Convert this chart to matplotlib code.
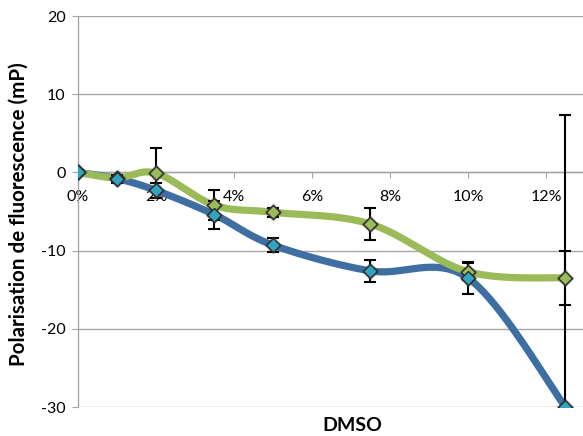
import numpy as np
import matplotlib
matplotlib.use("Agg")
import matplotlib.pyplot as plt

# ---- data ----
dmso = [0, 1, 2, 3.5, 5, 7.5, 10, 12.5]
blue_vals = [0.0, -0.8, -2.3, -5.4, -9.3, -12.6, -13.5, -30.0]
blue_err = [0.3, 0.5, 1.0, 1.8, 0.9, 1.4, 2.1, 37.3]
green_vals = [0.0, -0.7, -0.1, -4.2, -5.1, -6.6, -12.7, -13.5]
green_err = [0.3, 0.4, 3.2, 1.9, 0.6, 2.1, 1.1, 3.4]
xtick_vals = [0, 2, 4, 6, 8, 10, 12]
xtick_labels = ["0%", "2%", "4%", "6%", "8%", "10%", "12%"]
ytick_vals = [20, 10, 0, -10, -20, -30]

plt.rcParams['font.family'] = ['Lato', 'DejaVu Sans']
plt.rcParams['axes.unicode_minus'] = False

fig = plt.figure(figsize=(5.83, 4.36), dpi=100)
ax = fig.add_axes([78/583, 29/436, 1 - 78/583, 391/436])
XMAX = 12.95
ax.set_xlim(0, XMAX)
ax.set_ylim(-30, 20)

# pixel scales for smoothing
sx = 505 / XMAX
sy = 391 / 50.0

def smooth(xs, ys, n=40):
    P = np.column_stack([np.array(xs) * sx, np.array(ys) * sy])
    out = []
    m = len(P)
    for i in range(m - 1):
        p0 = P[i - 1] if i > 0 else P[i]
        p1 = P[i]
        p2 = P[i + 1]
        p3 = P[i + 2] if i + 2 < m else P[i + 1]
        c1 = p1 + (p2 - p0) / 6.0
        c2 = p2 - (p3 - p1) / 6.0
        t = np.linspace(0, 1, n)[:, None]
        seg = (1 - t) ** 3 * p1 + 3 * (1 - t) ** 2 * t * c1 + 3 * (1 - t) * t ** 2 * c2 + t ** 3 * p2
        out.append(seg if i == 0 else seg[1:])
    S = np.vstack(out)
    return S[:, 0] / sx, S[:, 1] / sy

blue_line = '#3F6EA3'
green_line = '#9BBB59'

bx, by = smooth(dmso, blue_vals)
gx, gy = smooth(dmso, green_vals)
ax.plot(bx, by, color=blue_line, lw=5.2, solid_capstyle='round', zorder=3)
ax.plot(gx, gy, color=green_line, lw=5.2, solid_capstyle='round', zorder=3.1)

# error bars
ax.errorbar(dmso, green_vals, yerr=green_err, fmt='none', ecolor='black',
            elinewidth=1.5, capsize=4.5, capthick=1.5, zorder=4)
ax.errorbar(dmso, blue_vals, yerr=blue_err, fmt='none', ecolor='black',
            elinewidth=1.5, capsize=4.5, capthick=1.5, zorder=4)

# markers with shadow
for vals, fc in [(green_vals, '#9BBB59'), (blue_vals, '#31A5C0')]:
    ax.plot(dmso, vals, linestyle='none', marker='D', markersize=9.5,
            markerfacecolor='#444444', markeredgecolor='none', alpha=0.45, zorder=4.5)
    ax.plot(dmso, vals, linestyle='none', marker='D', markersize=7.2,
            markerfacecolor=fc, markeredgecolor='#2a2a2a', markeredgewidth=1.0, zorder=5)

# axes styling
ax.set_yticks(ytick_vals)
ax.set_xticks(xtick_vals)
ax.set_xticklabels(xtick_labels)
ax.yaxis.grid(True, color='#A6A6A6', lw=1.0)
ax.set_axisbelow(True)
for s in ['top', 'right']:
    ax.spines[s].set_visible(False)
ax.spines['bottom'].set_position(('data', 0))
ax.spines['bottom'].set_color('#A6A6A6')
ax.spines['left'].set_color('#A6A6A6')
ax.spines['left'].set_linewidth(1.0)
ax.spines['bottom'].set_linewidth(1.0)
ax.tick_params(axis='y', length=4, color='#A6A6A6', labelsize=11.5, pad=5)
ax.tick_params(axis='x', length=4, color='#A6A6A6', labelsize=11.5, pad=9)

fig.text(19/583, 1 - 214/436, 'Polarisation de fluorescence (mP)', rotation=90,
         ha='center', va='center', fontsize=14.8, fontweight='bold')
fig.text(352/583, 1 - 425/436, 'DMSO', ha='center', va='center',
         fontsize=14, fontweight='bold')

fig.savefig('out.png', dpi=100)
